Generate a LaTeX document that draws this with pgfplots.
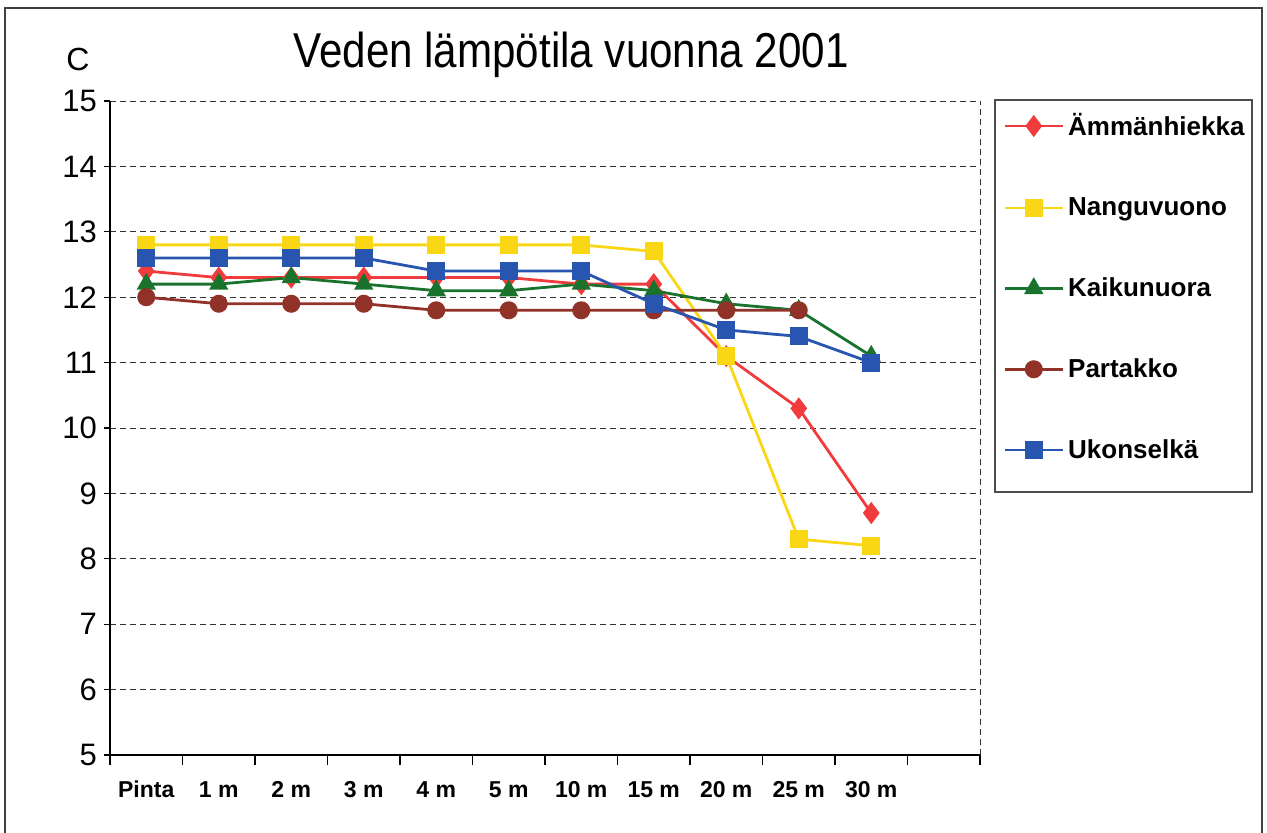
\documentclass[border=0pt]{standalone}
\usepackage{pgfplots}
\pgfplotsset{compat=1.18}
\usepackage{fontspec}
\setmainfont{Liberation Sans}
\definecolor{cRed}{RGB}{240,60,60}
\definecolor{cYel}{RGB}{250,215,20}
\definecolor{cGrn}{RGB}{25,115,45}
\definecolor{cBrn}{RGB}{145,50,40}
\definecolor{cBlu}{RGB}{40,85,175}
\begin{document}
\begin{tikzpicture}
\path[use as bounding box] (0pt,0pt) rectangle (633.5pt,416pt);
\draw[black!75, line width=1pt] (2.5pt,-2pt) -- (2.5pt,412pt) -- (631pt,412pt) -- (631pt,-2pt);
\begin{axis}[
  at={(55pt,38.5pt)}, anchor=south west,
  scale only axis, width=435pt, height=327pt,
  xmin=-0.5, xmax=11.5, ymin=5, ymax=15,
  axis x line*=bottom, axis y line*=left,
  axis line style={black, line width=0.9pt},
  xtick={0,...,10},
  xticklabels={Pinta,1 m,2 m,3 m,4 m,5 m,10 m,15 m,20 m,25 m,30 m},
  x tick label style={font=\fontsize{11.5}{12}\selectfont\bfseries, text height=8.5pt, text depth=0pt, yshift=-6pt},
  major x tick style={draw=none},
  minor xtick={-0.5,0.5,...,11.5},
  minor x tick style={black, line width=0.6pt},
  minor tick length=5pt,
  xtick align=outside, ytick align=outside,
  ytick={5,...,15},
  y tick label style={font=\fontsize{15.5}{16}\selectfont},
  major y tick style={black, line width=0.6pt},
  major tick length=3pt,
  /pgf/number format/assume math mode=true,
  ymajorgrids,
  grid style={black!80, dashed, dash pattern=on 3pt off 2pt, line width=0.5pt},
  extra x ticks={11.5}, extra x tick labels={},
  extra x tick style={grid=major, major tick length=0pt},
  clip=false,
  legend style={at={(1.0172,0.9878)}, anchor=north west, draw=none, fill=none,
    font=\fontsize{13}{14}\selectfont\bfseries, row sep=25.5pt,
    inner xsep=4pt, inner ysep=0pt, cells={anchor=west}},
  legend image code/.code={\draw[line width=1.4pt, mark repeat=2,mark phase=2] plot coordinates {(0pt,0pt) (14.5pt,0pt) (29pt,0pt)};},
]
\draw[black!70, line width=0.7pt] (rel axis cs:1.01724,1.0015) rectangle (rel axis cs:1.3126,0.4021);
\addplot[cRed, line width=1.4pt, mark=diamond*, mark size=4.4pt, mark options={solid}] coordinates {
(0,12.4) (1,12.3) (2,12.3) (3,12.3) (4,12.3) (5,12.3) (6,12.2) (7,12.2) (8,11.1) (9,10.3) (10,8.7)};
\addlegendentry{Ämmänhiekka}
\addplot[cYel, line width=1.4pt, mark=square*, mark size=3.8pt] coordinates {
(0,12.8) (1,12.8) (2,12.8) (3,12.8) (4,12.8) (5,12.8) (6,12.8) (7,12.7) (8,11.1) (9,8.3) (10,8.2)};
\addlegendentry{Nanguvuono}
\addplot[cGrn, line width=1.4pt, mark=triangle*, mark size=4.2pt] coordinates {
(0,12.2) (1,12.2) (2,12.3) (3,12.2) (4,12.1) (5,12.1) (6,12.2) (7,12.1) (8,11.9) (9,11.8) (10,11.1)};
\addlegendentry{Kaikunuora}
\addplot[cBrn, line width=1.4pt, mark=*, mark size=3.8pt] coordinates {
(0,12.0) (1,11.9) (2,11.9) (3,11.9) (4,11.8) (5,11.8) (6,11.8) (7,11.8) (8,11.8) (9,11.8)};
\addlegendentry{Partakko}
\addplot[cBlu, line width=1.4pt, mark=square*, mark size=3.8pt] coordinates {
(0,12.6) (1,12.6) (2,12.6) (3,12.6) (4,12.4) (5,12.4) (6,12.4) (7,11.9) (8,11.5) (9,11.4) (10,11.0)};
\addlegendentry{Ukonselkä}
\node[font=\fontsize{16}{17}\selectfont] at (rel axis cs:-0.037,1.063) {C};
\node[font=\fontsize{24.5}{26}\selectfont] at (rel axis cs:0.530,1.071) {\scalebox{0.86}[1]{Veden lämpötila vuonna 2001}};
\end{axis}
\end{tikzpicture}
\end{document}
